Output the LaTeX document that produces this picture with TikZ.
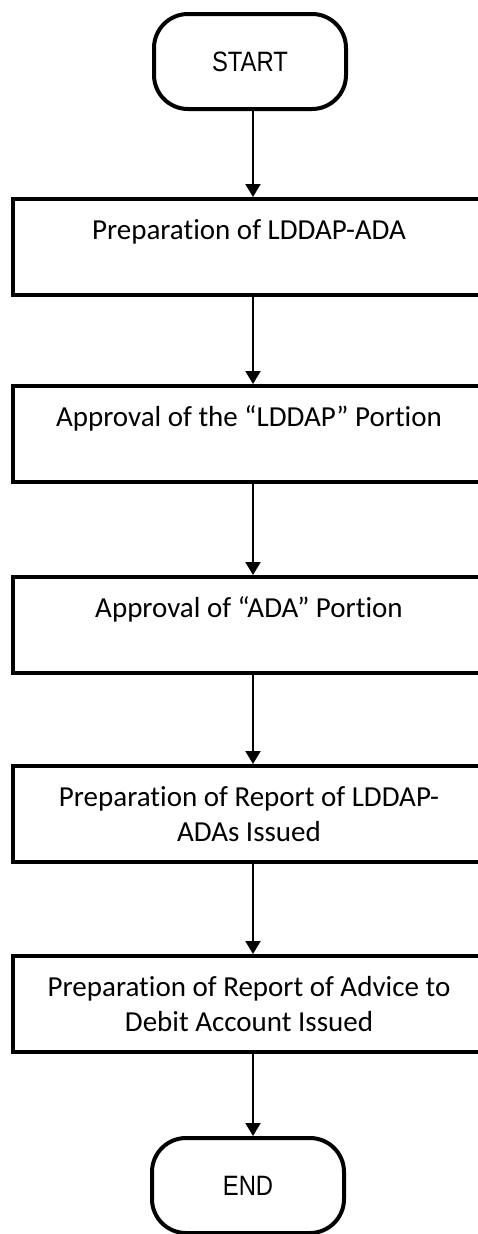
\documentclass[tikz,border=0pt]{standalone}
\usepackage{fontspec}
\setmainfont[Ligatures=NoCommon]{Carlito}
\newfontfamily\termfont[FakeStretch=0.85]{Liberation Sans}
\usetikzlibrary{arrows.meta}
\begin{document}
\begin{tikzpicture}[x=1pt,y=-1pt,
  terminal/.style={draw,line width=4pt,rounded corners=34pt,minimum width=192pt,minimum height=95pt,inner sep=0pt,
    font=\termfont\fontsize{28}{33}\selectfont},
  stepbox/.style={draw,line width=4pt,minimum width=472pt,minimum height=96pt,inner sep=0pt,align=center,
    font=\fontsize{29}{35.4}\selectfont},
  arr/.style={line width=2pt,-{Triangle[length=13pt,width=15pt]}}]
\useasboundingbox (0,0) rectangle (478,1234);
\clip (0,0) rectangle (478,1234);
\node[terminal] (start) at (250,61.5) {START};
\node[stepbox] (b1) at (249,247) {Preparation of LDDAP-ADA\\\mbox{}};
\node[stepbox] (b2) at (249,434) {Approval of the “LDDAP” Portion\\\mbox{}};
\node[stepbox] (b3) at (249,625) {Approval of “ADA” Portion\\\mbox{}};
\node[stepbox] (b4) at (249,814) {Preparation of Report of LDDAP-\\ADAs Issued};
\node[stepbox] (b5) at (249,1004) {Preparation of Report of Advice to\\Debit Account Issued};
\node[terminal] (end) at (248,1185.5) {END};
\coordinate (c0) at (253,0);
\draw[arr] (start.south -| c0) -- (b1.north -| c0);
\draw[arr] (b1.south -| c0) -- (b2.north -| c0);
\draw[arr] (b2.south -| c0) -- (b3.north -| c0);
\draw[arr] (b3.south -| c0) -- (b4.north -| c0);
\draw[arr] (b4.south -| c0) -- (b5.north -| c0);
\draw[arr] (b5.south -| c0) -- (end.north -| c0);
\end{tikzpicture}
\end{document}
